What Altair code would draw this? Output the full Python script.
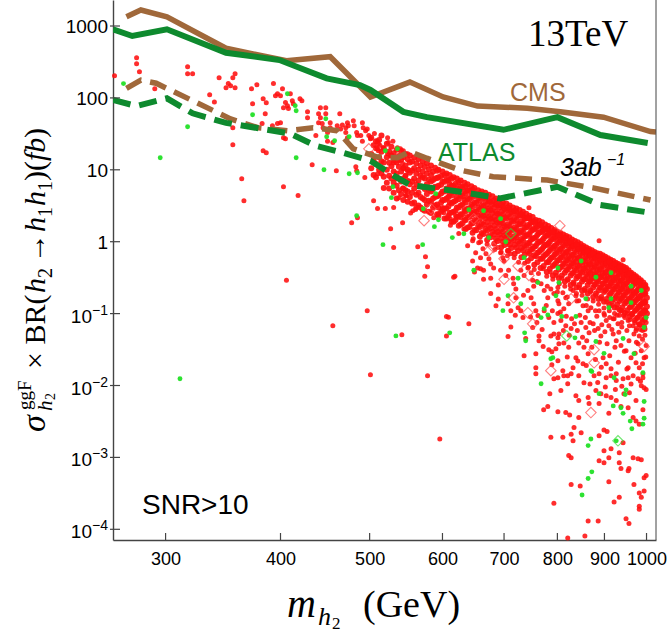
import altair as alt
import pandas as pd

# ---------------- exclusion limits (mass in GeV, cross section in fb) ----------------
cms_m = [272, 282, 301, 349, 406, 453, 501, 553, 601, 655, 742, 806, 898, 1010, 1024]
cms_s = [1346, 1669, 1346, 490, 329, 374, 103, 166, 103, 77, 72, 64, 54, 34, 33.6]

atlas_m = [263, 276, 301, 349, 399, 449, 488, 501, 544, 577, 699, 800, 891, 1003]
atlas_s = [900, 726, 900, 425, 336, 187, 151, 129, 64, 54, 36, 54, 30.5, 23.6]

cms3_m = [272, 282, 293, 353, 378, 407, 434, 461, 480, 509, 536, 553, 577, 627, 681, 780, 875, 1010]
cms3_s = [136, 177, 160, 51, 38.5, 35, 38.5, 35, 19.6, 15.2, 14.7, 17.9, 14.5, 9.9, 8.0, 7.2, 5.6, 3.8]

atlas3_m = [263, 279, 301, 321, 349, 410, 437, 467, 501, 531, 553, 627, 693, 800, 891, 995]
atlas3_s = [93.5, 77, 98.7, 61, 45, 31.8, 21.6, 17.3, 13.4, 8.3, 6.15, 4.96, 4.0, 5.8, 3.24, 2.6]

# ---------------- scan points ----------------
red_sparse = [
    (264, 204), (279, 362), (279, 299), (281, 231), (292, 134), (317, 272), (317, 217), (321, 217),
    (335, 111), (339, 88), (343, 191), (351, 158), (355, 191), (357, 217), (349, 139), (355, 38.5),
    (355, 22.3), (363, 7.5), (365, 3.7), (353, 148), (357, 139), (377, 153), (372, 134), (383, 97.5),
    (386, 85.7), (397, 114), (400, 107), (395, 107), (402, 134), (373, 83), (385, 60), (405, 86),
    (407, 78), (403, 73), (408, 71), (412, 91), (413, 83), (420, 97.5), (422, 91), (428, 53), (428, 64),
    (442, 73), (448, 73), (440, 60), (448, 60), (442, 53), (453, 45), (382, 44), (392, 41), (397, 44),
    (400, 45), (440, 45), (444, 44), (445, 38.5), (450, 33), (453, 38.5), (403, 28), (405, 27), (437, 30),
    (450, 25), (456, 24), (461, 41), (465, 37), (467, 42), (464, 60), (473, 45), (474, 41), (471, 38.5),
    (471, 33), (473, 28), (480, 48), (481, 41), (484, 33), (485, 30), (491, 45), (492, 38.5), (495, 35),
    (497, 37), (489, 30), (491, 25), (499, 30), (501, 27), (506, 32), (510, 25), (511, 23), (513, 22),
    (383, 18.4), (386, 17.3), (433, 11.8), (460, 9.7), (483, 11), (484, 9.7), (494, 7.8), (510, 19.6),
    (511, 18.4), (517, 20.3), (523, 28), (524, 24), (530, 25), (536, 20.3), (540, 19.6), (544, 18.4),
    (550, 16.7), (523, 16.7), (527, 15.7), (531, 13.4), (538, 13.4), (543, 12.2), (544, 10.7), (550, 9.7),
    (547, 8.3), (551, 7), (510, 8.8), (534, 7.5), (543, 5.6), (403, 5.8), (418, 4.4), (505, 3.7),
    (510, 2.9), (520, 2.9), (531, 3.0), (538, 4.1), (547, 4.4), (478, 1.84), (485, 2.16), (527, 1.52),
    (543, 1.84), (554, 2.5), (406, 0.29), (456, 0.068), (393, 158), (410, 114),
]

# dense band along the upper edge of the scan: mass -> cross sections
red_band = {
    502: [28, 16.6, 10.5], 508: [25, 20, 12, 7.9], 515: [30, 17.8, 13.2, 8.9], 522: [23, 15, 10, 6.6],
    528: [21, 15.8, 11.2, 7.6], 535: [19, 12.6, 8.9, 6.0, 4.0], 541: [18.2, 13.8, 9.5, 6.9, 4.6],
    547: [16.6, 11.5, 8.3, 5.2], 553: [15.8, 12.6, 9.1, 6.3, 4.2], 559: [14.8, 10.5, 7.6, 5.5, 3.5],
    565: [14.1, 10, 7.1, 4.8, 3.2], 571: [13.2, 9.5, 7.9, 5.8, 4.0, 2.8], 577: [12.3, 8.9, 6.3, 4.6, 3.3],
    583: [11.5, 8.5, 6.9, 5.0, 3.6, 2.5], 589: [10.7, 7.6, 5.8, 4.2, 3.2], 594: [10, 7.9, 6.0, 4.4, 3.0, 2.3],
    600: [9.5, 6.9, 5.0, 3.8, 2.75], 606: [8.9, 7.2, 5.5, 4.0, 2.9, 2.1], 611: [8.5, 6.3, 4.6, 3.5, 2.5],
    617: [7.9, 6.0, 5.0, 3.6, 2.6, 1.9], 622: [7.6, 5.5, 4.2, 3.0, 2.2], 628: [7.1, 5.8, 4.4, 3.2, 2.4, 1.74],
    634: [6.6, 5.0, 3.8, 2.75, 2.0], 639: [6.3, 5.2, 4.0, 2.9, 2.2, 1.58], 645: [5.9, 4.4, 3.3, 2.5, 1.8],
    650: [5.6, 4.6, 3.5, 2.6, 2.0, 1.45], 656: [5.2, 4.0, 3.0, 2.3, 1.66], 662: [5.0, 4.2, 3.2, 2.4, 1.8, 1.32],
    668: [4.8, 3.6, 2.75, 2.1, 1.5], 674: [4.5, 3.7, 2.9, 2.2, 1.66, 1.2], 680: [4.3, 3.3, 2.5, 1.9, 1.38],
    686: [4.0, 3.4, 2.6, 2.0, 1.5, 1.1], 692: [3.8, 3.0, 2.3, 1.74, 1.26], 698: [3.5, 3.1, 2.4, 1.8, 1.38, 1.0],
    704: [3.4, 2.75, 2.1, 1.58, 1.15], 710: [3.2, 2.8, 2.2, 1.66, 1.26, 0.91], 716: [3.0, 2.5, 1.9, 1.45, 1.05],
    722: [2.9, 2.6, 2.0, 1.5, 1.15, 0.83], 728: [2.75, 2.3, 1.74, 1.32, 0.95],
    734: [2.6, 2.3, 1.8, 1.38, 1.05, 0.76], 740: [2.45, 2.1, 1.58, 1.2, 0.87],
    746: [2.3, 2.1, 1.66, 1.26, 0.95, 0.69], 752: [2.2, 1.9, 1.45, 1.1, 0.79],
    758: [2.0, 1.74, 1.5, 1.15, 0.87, 0.63], 764: [1.95, 1.74, 1.32, 1.0, 0.72],
    770: [1.86, 1.58, 1.38, 1.05, 0.79, 0.58], 776: [1.74, 1.45, 1.2, 0.91, 0.66],
    782: [1.66, 1.48, 1.26, 0.95, 0.72, 0.52], 788: [1.55, 1.32, 1.1, 0.83, 0.6],
    794: [1.45, 1.35, 1.15, 0.87, 0.66, 0.48], 800: [1.38, 1.2, 1.0, 0.76, 0.55],
    806: [1.32, 1.23, 1.05, 0.79, 0.6, 0.44], 812: [1.26, 1.1, 0.91, 0.69, 0.5],
    818: [1.2, 1.12, 0.95, 0.72, 0.55, 0.4], 824: [1.15, 1.0, 0.83, 0.63, 0.46],
    830: [1.07, 0.93, 0.87, 0.66, 0.5, 0.36], 836: [1.02, 0.91, 0.76, 0.58, 0.42],
    842: [0.98, 0.89, 0.79, 0.6, 0.46, 0.33], 848: [0.93, 0.83, 0.69, 0.52, 0.38],
    854: [0.87, 0.81, 0.72, 0.55, 0.42, 0.3], 860: [0.83, 0.76, 0.63, 0.48, 0.35],
    866: [0.79, 0.74, 0.66, 0.5, 0.38, 0.28], 872: [0.76, 0.69, 0.58, 0.44, 0.32],
    878: [0.72, 0.68, 0.6, 0.46, 0.35, 0.25], 884: [0.69, 0.63, 0.52, 0.4, 0.29],
    890: [0.68, 0.62, 0.55, 0.42, 0.32, 0.23], 896: [0.65, 0.58, 0.48, 0.36, 0.26],
    902: [0.62, 0.56, 0.5, 0.38, 0.29, 0.21], 908: [0.59, 0.52, 0.44, 0.33, 0.24],
    914: [0.56, 0.51, 0.46, 0.35, 0.26, 0.19], 920: [0.54, 0.48, 0.4, 0.3, 0.22],
    926: [0.51, 0.47, 0.42, 0.32, 0.24, 0.17], 932: [0.49, 0.44, 0.36, 0.28, 0.2],
    938: [0.47, 0.43, 0.38, 0.29, 0.22, 0.16], 944: [0.45, 0.4, 0.33, 0.25, 0.18],
    950: [0.43, 0.39, 0.35, 0.26, 0.2, 0.145], 956: [0.4, 0.35, 0.3, 0.22, 0.16],
    962: [0.37, 0.34, 0.3, 0.23, 0.17, 0.126], 968: [0.35, 0.32, 0.26, 0.2, 0.145],
    974: [0.33, 0.3, 0.27, 0.2, 0.155, 0.112], 980: [0.31, 0.28, 0.23, 0.17, 0.126],
    986: [0.29, 0.26, 0.23, 0.178, 0.135, 0.1], 992: [0.27, 0.24, 0.2, 0.15, 0.112],
    997: [0.25, 0.23, 0.19, 0.145, 0.11, 0.089], 1001: [0.22, 0.166, 0.126, 0.1],
}

# second pass through the band, between the columns above
red_band_mid = {
    505: [22, 13.5, 8.5], 512: [26, 15, 10], 518: [20, 12.6, 8.0, 5.6], 525: [18, 12.5, 8.3, 5.5],
    531: [17, 12.6, 9.5, 6.6, 4.8], 538: [15.5, 11, 7.6, 5.2], 544: [15, 10.5, 7.6, 5.5, 3.8],
    550: [14, 10, 7, 5, 3.6], 556: [13, 9.8, 6.9, 4.8, 3.4], 562: [12.3, 8.9, 6.3, 4.5, 3.0],
    568: [11.5, 8.3, 5.9, 4.2, 3.0], 574: [11, 7.6, 5.4, 3.8, 2.7], 580: [10.2, 7.3, 5.3, 3.7, 2.6],
    586: [9.4, 7.2, 5.4, 4.0, 3.0], 592: [9.7, 7.7, 5.7, 4.3, 3.3, 2.4], 598: [8.2, 6.2, 4.7, 3.5, 2.6],
    603: [8.5, 6.8, 5.0, 3.8, 2.9, 2.1], 609: [7.2, 5.5, 4.2, 3.1, 2.3], 614: [7.5, 6.0, 4.4, 3.4, 2.55, 1.9],
    620: [6.4, 4.9, 3.7, 2.7, 2.0], 625: [6.7, 5.3, 3.9, 3.0, 2.26, 1.67], 631: [5.7, 4.3, 3.3, 2.4, 1.8],
    636: [5.9, 4.7, 3.5, 2.65, 2.0, 1.5], 642: [5.1, 3.9, 2.9, 2.2, 1.6], 647: [5.3, 4.2, 3.1, 2.4, 1.8, 1.33],
    653: [4.5, 3.45, 2.6, 1.94, 1.44], 659: [4.7, 3.7, 2.8, 2.1, 1.6, 1.18], 665: [4.1, 3.1, 2.3, 1.73, 1.28],
    671: [4.2, 3.3, 2.5, 1.88, 1.43, 1.06], 677: [3.6, 2.75, 2.1, 1.55, 1.15],
    683: [3.75, 3.0, 2.2, 1.67, 1.27, 0.94], 689: [3.2, 2.45, 1.85, 1.37, 1.02],
    695: [3.3, 2.6, 1.96, 1.49, 1.13, 0.84], 701: [2.86, 2.17, 1.64, 1.22, 0.9],
    707: [2.98, 2.37, 1.75, 1.33, 1.0, 0.75], 713: [2.58, 1.96, 1.49, 1.1, 0.82],
    719: [2.7, 2.14, 1.58, 1.2, 0.91, 0.68], 725: [2.33, 1.77, 1.34, 1.0, 0.74],
    731: [2.43, 1.93, 1.43, 1.09, 0.82, 0.61], 737: [2.1, 1.58, 1.2, 0.89, 0.66],
    743: [2.16, 1.71, 1.27, 0.96, 0.73, 0.54], 749: [1.85, 1.41, 1.07, 0.79, 0.59],
    755: [1.91, 1.52, 1.13, 0.86, 0.65, 0.48], 761: [1.64, 1.25, 0.95, 0.7, 0.52],
    767: [1.71, 1.36, 1.0, 0.76, 0.58, 0.43], 773: [1.47, 1.11, 0.85, 0.63, 0.46],
    779: [1.52, 1.21, 0.9, 0.68, 0.52, 0.38], 785: [1.32, 1.0, 0.76, 0.56, 0.42],
    791: [1.36, 1.08, 0.8, 0.61, 0.46, 0.34], 797: [1.17, 0.89, 0.68, 0.5, 0.37],
    803: [1.22, 0.97, 0.72, 0.55, 0.41, 0.31], 809: [1.06, 0.81, 0.61, 0.45, 0.34],
    815: [1.11, 0.88, 0.65, 0.49, 0.37, 0.28], 821: [0.96, 0.73, 0.55, 0.41, 0.3],
    827: [1.0, 0.8, 0.59, 0.45, 0.34, 0.25], 833: [0.87, 0.66, 0.5, 0.37, 0.27],
    839: [0.91, 0.72, 0.53, 0.4, 0.31, 0.23], 845: [0.79, 0.6, 0.45, 0.33, 0.25],
    851: [0.82, 0.65, 0.48, 0.37, 0.28, 0.21], 857: [0.71, 0.54, 0.41, 0.3, 0.22],
    863: [0.74, 0.59, 0.44, 0.33, 0.25, 0.19], 869: [0.65, 0.49, 0.37, 0.28, 0.21],
    875: [0.68, 0.54, 0.4, 0.31, 0.23, 0.17], 881: [0.6, 0.45, 0.34, 0.26, 0.19],
    887: [0.63, 0.5, 0.37, 0.28, 0.21, 0.16], 893: [0.55, 0.42, 0.32, 0.23, 0.17],
    899: [0.58, 0.46, 0.34, 0.26, 0.2, 0.146], 905: [0.51, 0.38, 0.29, 0.22, 0.16],
    911: [0.53, 0.42, 0.31, 0.24, 0.18, 0.133], 917: [0.46, 0.35, 0.27, 0.2, 0.147],
    923: [0.49, 0.39, 0.29, 0.22, 0.16, 0.122], 929: [0.42, 0.32, 0.24, 0.18, 0.134],
    935: [0.44, 0.35, 0.26, 0.2, 0.15, 0.112], 941: [0.39, 0.29, 0.22, 0.166, 0.123],
    947: [0.41, 0.32, 0.24, 0.18, 0.138, 0.102], 953: [0.35, 0.27, 0.2, 0.15, 0.111],
    959: [0.36, 0.29, 0.21, 0.16, 0.123, 0.091], 965: [0.31, 0.24, 0.18, 0.133, 0.099],
    971: [0.32, 0.26, 0.19, 0.144, 0.109, 0.081], 977: [0.28, 0.21, 0.16, 0.117, 0.087],
    983: [0.28, 0.22, 0.165, 0.125, 0.095, 0.07], 989: [0.24, 0.18, 0.137, 0.102, 0.075],
    995: [0.24, 0.19, 0.143, 0.109, 0.082, 0.061],
}

red_spread = [
    (557, 2.7), (561, 2.8), (564, 0.85), (575, 0.62), (578, 0.45), (574, 0.33), (548, 4.36),
    (587, 2.16), (594, 2.45), (600, 3.0), (602, 2.53), (608, 2.16), (612, 2.09), (620, 2.3), (628, 2.16),
    (617, 0.32), (606, 0.091), (609, 0.089), (641, 0.072), (606, 0.049),
    (639, 0.88), (647, 1.03), (652, 0.70), (657, 0.97), (660, 0.60), (664, 0.80), (647, 0.54), (655, 0.43),
    (660, 0.42), (665, 0.40), (669, 0.68), (674, 0.58), (677, 0.49), (682, 0.43), (677, 0.31), (686, 0.129),
    (677, 0.19), (689, 0.83), (694, 0.70), (698, 0.60), (700, 0.54), (707, 0.75), (712, 0.68), (694, 0.40),
    (703, 0.34), (708, 0.40), (716, 0.31), (717, 0.26), (721, 0.22), (707, 0.137), (712, 0.110), (721, 0.166),
    (725, 0.121), (730, 0.110), (734, 0.088), (707, 0.048), (739, 0.045), (730, 0.40), (736, 0.34), (743, 0.43),
    (749, 0.37), (752, 0.29), (754, 0.24), (743, 0.21), (749, 0.166), (754, 0.137), (758, 0.110), (762, 0.094),
    (768, 0.26), (774, 0.21), (781, 0.166), (787, 0.22), (793, 0.19), (801, 0.151), (774, 0.110), (783, 0.088),
    (793, 0.075), (801, 0.100), (764, 0.049), (793, 0.052), (752, 0.064), (578, 0.0137), (596, 0.0018),
    (764, 0.042), (787, 0.049), (801, 0.046), (803, 0.038), (783, 0.0315), (789, 0.0295), (797, 0.0325),
    (772, 0.035), (736, 0.026), (758, 0.0277), (758, 0.0177), (758, 0.0146), (789, 0.0195), (793, 0.0124),
    (785, 0.0077), (781, 0.0051), (773, 0.0046), (801, 0.0043), (787, 0.0019), (793, 0.00023),
    (801, 0.23), (811, 0.195), (817, 0.166), (803, 0.137), (813, 0.117), (823, 0.137), (832, 0.21), (838, 0.177),
    (844, 0.151), (853, 0.129), (864, 0.110), (870, 0.121), (807, 0.080), (817, 0.068), (828, 0.062), (803, 0.052),
    (813, 0.039), (823, 0.034), (849, 0.075), (859, 0.064), (866, 0.054), (875, 0.072), (886, 0.062), (892, 0.049),
    (844, 0.039), (855, 0.034), (864, 0.0277), (838, 0.0244), (853, 0.0201), (832, 0.0177), (888, 0.110),
    (899, 0.100), (904, 0.080), (910, 0.068), (922, 0.085), (931, 0.072), (938, 0.110), (945, 0.094), (955, 0.080),
    (967, 0.068), (974, 0.058), (982, 0.049), (920, 0.052), (927, 0.042), (938, 0.036), (950, 0.0305),
    (962, 0.0244), (974, 0.0207), (897, 0.0244), (904, 0.0201), (915, 0.0171), (927, 0.0146), (943, 0.0124),
    (955, 0.0177), (979, 0.038), (987, 0.0305), (994, 0.0244), (982, 0.0177), (991, 0.0128), (801, 0.0221),
    (811, 0.0161), (821, 0.0137), (801, 0.0128), (888, 1.03), (943, 0.56), (745, 2.97),
    (813, 0.0137), (828, 0.0146), (844, 0.0137), (855, 0.0109), (821, 0.0106), (807, 0.0085), (838, 0.0072),
    (844, 0.0062), (864, 0.0068), (866, 0.0056), (877, 0.0137), (888, 0.0146), (904, 0.0128), (915, 0.0137),
    (927, 0.0117), (955, 0.0128), (967, 0.0137), (979, 0.0124), (991, 0.0146), (881, 0.0085), (892, 0.0077),
    (904, 0.0072), (915, 0.0068), (927, 0.0062), (945, 0.0077), (958, 0.0079), (974, 0.0062), (987, 0.0099),
    (994, 0.0093), (888, 0.0056), (910, 0.0041), (938, 0.0051), (955, 0.0049), (967, 0.0036), (974, 0.0032),
    (982, 0.0029), (991, 0.0046), (817, 0.0042), (825, 0.0039), (844, 0.0036), (834, 0.0026), (849, 0.0022),
    (828, 0.0021), (832, 0.0017), (811, 0.0019), (888, 0.0020), (899, 0.0024), (906, 0.0023), (915, 0.00132),
    (899, 0.00124), (934, 0.00116), (943, 0.0016), (823, 0.00106), (828, 0.00099), (888, 0.00090), (899, 0.00084),
    (910, 0.00099), (934, 0.00084), (938, 0.00070), (955, 0.00065), (957, 0.00070), (967, 0.00099), (979, 0.00096),
    (987, 0.00093), (994, 0.00052), (999, 0.00056), (910, 0.00046), (828, 0.00042), (847, 0.00040), (969, 0.00042),
    (994, 0.00034), (982, 0.00032), (987, 0.00028), (982, 0.00021), (982, 0.00019), (934, 0.00028), (922, 0.00024),
    (864, 0.00013), (886, 0.00013), (950, 0.00014), (957, 0.00012), (857, 0.000081), (821, 0.000076),
    (619, 0.33), (531, 0.83), (497, 0.110), (542, 0.051), (501, 0.0141),
    (612, 1.7), (625, 1.3), (633, 1.5), (648, 1.1), (660, 1.0), (671, 0.92), (684, 0.78), (695, 0.72), (706, 0.64),
    (718, 0.6), (726, 0.52), (737, 0.5), (744, 0.44), (755, 0.41), (763, 0.36), (772, 0.42), (779, 0.33),
    (786, 0.38), (791, 0.3), (798, 0.34), (804, 0.26), (809, 0.31), (815, 0.24), (821, 0.29), (827, 0.22),
    (833, 0.26), (839, 0.19), (845, 0.23), (851, 0.18), (857, 0.21), (863, 0.16), (869, 0.2), (875, 0.15),
    (881, 0.18), (887, 0.135), (893, 0.16), (899, 0.12), (905, 0.145), (911, 0.11), (917, 0.13), (923, 0.1),
    (929, 0.12), (935, 0.095), (941, 0.11), (947, 0.088), (953, 0.1), (959, 0.082), (965, 0.095), (971, 0.075),
    (977, 0.088), (983, 0.07), (989, 0.082), (995, 0.066), (999, 0.075), (990, 0.058), (975, 0.062), (958, 0.068),
    (940, 0.075), (920, 0.085), (900, 0.095), (880, 0.11), (860, 0.13), (840, 0.15), (820, 0.17), (800, 0.2),
    (780, 0.24), (760, 0.28),
    (806, 0.105), (812, 0.058), (818, 0.092), (824, 0.05), (829, 0.085), (835, 0.072), (841, 0.058), (846, 0.095),
    (852, 0.047), (858, 0.088), (861, 0.042), (868, 0.075), (872, 0.034), (878, 0.058), (883, 0.092), (889, 0.04),
    (894, 0.07), (901, 0.056), (906, 0.038), (912, 0.088), (917, 0.06), (924, 0.034), (929, 0.095), (933, 0.055),
    (940, 0.065), (946, 0.03), (952, 0.058), (957, 0.042), (963, 0.1), (969, 0.052), (975, 0.04), (980, 0.072),
    (985, 0.06), (990, 0.044), (996, 0.05), (999, 0.036), (820, 0.025), (842, 0.022), (860, 0.019), (880, 0.023),
    (893, 0.018), (912, 0.026), (932, 0.021), (952, 0.017), (972, 0.028), (990, 0.02), (998, 0.025), (868, 0.0105),
    (885, 0.011), (902, 0.0095), (925, 0.0088), (940, 0.0098), (962, 0.0105), (985, 0.0115), (999, 0.0088),
    (760, 0.075), (770, 0.06), (778, 0.13), (790, 0.11), (748, 0.09), (735, 0.18), (720, 0.095), (690, 0.25),
    (665, 0.3), (650, 0.38), (690, 0.16), (712, 0.065),
]

green_pts = [
    (270, 158), (296, 14.7), (317, 39.7), (373, 58.4), (407, 114), (415, 78), (416, 66.4), (448, 51.4),
    (449, 28.8), (458, 25.4), (475, 28.8), (416, 14.7), (446, 10), (475, 8.8), (485, 9.1), (520, 18.4),
    (536, 19.6), (530, 5.8), (528, 4.1), (484, 2.3), (311, 0.0124),
    (572, 2.88), (590, 4.65), (588, 1.62), (594, 2.02), (615, 1.14), (633, 1.29), (571, 0.91), (649, 0.40),
    (641, 2.79), (665, 2.7), (694, 2.09), (674, 1.14), (703, 1.0), (736, 0.60), (725, 0.31), (707, 0.177),
    (698, 0.110), (730, 0.137), (762, 0.27), (768, 0.088), (774, 0.117), (781, 0.096), (737, 0.054),
    (611, 0.054), (797, 0.177), (801, 0.43), (803, 0.27), (809, 0.091), (838, 0.091), (859, 0.161),
    (915, 0.161), (910, 0.121), (962, 0.142), (999, 0.088), (994, 0.064), (836, 0.046), (881, 0.041),
    (943, 0.045), (969, 0.0277), (899, 0.028), (870, 0.0161), (922, 0.0128), (991, 0.0151), (739, 0.042),
    (787, 0.0236), (791, 0.0244), (768, 0.0106), (872, 0.0156), (888, 0.0077), (950, 0.0087), (948, 0.0075),
    (920, 0.0052), (938, 0.0049), (994, 0.0060), (943, 0.0041), (960, 0.0032), (964, 0.0025), (994, 0.0035),
    (991, 0.0029), (870, 0.0018), (864, 0.00146), (872, 0.00063), (864, 0.00051), (851, 0.00030), (927, 0.0017),
    (849, 0.54), (915, 0.37), (881, 0.32), (962, 0.24), (987, 0.21), (517, 0.91), (534, 0.049),
]

red_diamonds = [
    (499, 19.6), (583, 2.88), (573, 1.96), (649, 2.09), (674, 0.75), (682, 0.83), (700, 0.58), (725, 0.46),
    (700, 0.30), (745, 0.34), (717, 0.166), (743, 0.103), (752, 0.072), (805, 1.67), (828, 0.161),
    (877, 0.0315), (877, 0.0207), (787, 0.0161), (994, 0.035), (870, 0.0042),
]
green_diamonds = [(712, 1.29), (819, 0.049), (931, 0.0017)]

x_ticks = [300, 400, 500, 600, 700, 800, 900, 1000]
y_plain = [1000, 100, 10, 1]
y_plain_txt = ["1000", "100", "10", "1"]
y_pow = [0.1, 0.01, 0.001, 0.0001]
y_pow_exp = ["\u22121", "\u22122", "\u22123", "\u22124"]

# ---------------- styling ----------------
BROWN = "#a0683a"
GREEN = "#0e8a2e"
RED_PT = "#ff1010"
GREEN_PT = "#22e026"
SERIF = "Liberation Serif"
SANS = "Liberation Sans"
AXIS_COL = "#444444"

W, H = 543, 540
xs = alt.Scale(type="log", domain=[263, 1024], nice=False)
ys = alt.Scale(type="log", domain=[7.1e-5, 2300], nice=False)
x_axis = alt.Axis(values=x_ticks, format="d", title=None, grid=False, ticks=False, tickSize=0,
                  labelFont=SANS, labelFontSize=18, labelColor="black", labelPadding=10,
                  labelOverlap=False, labelFlush=False, domainColor=AXIS_COL, domainWidth=1.4)
y_axis = alt.Axis(labels=False, title=None, grid=False, ticks=False, tickSize=0,
                  domainColor=AXIS_COL, domainWidth=1.4)
X = alt.X("m:Q", scale=xs, axis=x_axis)
Y = alt.Y("s:Q", scale=ys, axis=y_axis)


def pts(rows):
    return pd.DataFrame(rows, columns=["m", "s"])


def curve(ms, ss, color, width, dash=None):
    kw = dict(color=color, strokeWidth=width, clip=True)
    if dash:
        kw["strokeDash"] = dash
    return alt.Chart(pd.DataFrame({"m": ms, "s": ss})).mark_line(**kw).encode(x=X, y=Y)


def text(txt, x, y, size, color="black", font=SANS, style="normal", align="left", angle=0):
    kw = dict(align=align, baseline="alphabetic", font=font, fontSize=size, fontStyle=style, color=color)
    if angle:
        kw["angle"] = angle
    return alt.Chart(pd.DataFrame({"t": [txt]})).mark_text(**kw).encode(
        x=alt.value(x), y=alt.value(y), text="t:N")


band_rows = [(m, s) for band in (red_band, red_band_mid) for m, ss in band.items() for s in ss]

# the packed band is drawn with slightly larger dots so it reads as one red mass
band_layer = alt.Chart(pts(band_rows)).mark_circle(
    color=RED_PT, size=36, opacity=0.92).encode(x=X, y=Y)
red_layer = alt.Chart(pts(red_sparse + red_spread)).mark_circle(
    color=RED_PT, size=25, opacity=0.88).encode(x=X, y=Y)
green_layer = alt.Chart(pts(green_pts)).mark_circle(
    color=GREEN_PT, size=24, opacity=0.95).encode(x=X, y=Y)
red_dia = alt.Chart(pts(red_diamonds)).mark_point(
    shape="diamond", filled=False, color="#ff4a4a", size=110, strokeWidth=1.1).encode(x=X, y=Y)
green_dia = alt.Chart(pts(green_diamonds)).mark_point(
    shape="diamond", filled=False, color="#33dd33", size=110, strokeWidth=1.1).encode(x=X, y=Y)

lines = [
    curve(cms_m, cms_s, BROWN, 5.5),
    curve(atlas_m, atlas_s, GREEN, 6),
    curve(cms3_m, cms3_s, BROWN, 5.5, [17, 9]),
    curve(atlas3_m, atlas3_s, GREEN, 6, [18, 9]),
]

x_tick_marks = alt.Chart(pd.DataFrame({"m": x_ticks})).mark_rule(color=AXIS_COL, strokeWidth=1.2).encode(
    x=X, y=alt.value(H - 7), y2=alt.value(H))
y_tick_marks = alt.Chart(pd.DataFrame({"s": y_plain + y_pow})).mark_rule(color=AXIS_COL, strokeWidth=1.2).encode(
    y=Y, x=alt.value(-3), x2=alt.value(7))
right_border = alt.Chart(pd.DataFrame({"t": [0]})).mark_rule(color=AXIS_COL, strokeWidth=1).encode(
    x=alt.value(W), y=alt.value(0), y2=alt.value(H))

y_lab_plain = alt.Chart(pd.DataFrame({"s": y_plain, "t": y_plain_txt})).mark_text(
    align="right", baseline="middle", font=SANS, fontSize=19, dy=1).encode(
    x=alt.value(-5), y=Y, text="t:N")
y_lab_base = alt.Chart(pd.DataFrame({"s": y_pow, "t": ["10"] * 4})).mark_text(
    align="right", baseline="middle", font=SANS, fontSize=19, dy=3).encode(
    x=alt.value(-21), y=Y, text="t:N")
y_lab_exp = alt.Chart(pd.DataFrame({"s": y_pow, "t": y_pow_exp})).mark_text(
    align="left", baseline="middle", font=SANS, fontSize=14, dy=-3).encode(
    x=alt.value(-21), y=Y, text="t:N")

labels = [
    text("13TeV", 415, 46, 37, font=SERIF),
    text("CMS", 397, 101, 25, color=BROWN),
    text("ATLAS", 325, 161, 25, color=GREEN),
    text("3ab", 447, 176, 25, style="italic"),
    text("\u22121", 494, 165, 16, style="italic"),
    text("SNR>10", 29, 514, 28),
    # x title: m_{h2}(GeV)
    text("m", 174, 617, 40, font=SERIF, style="italic"),
    text("h", 205, 625, 26, font=SERIF, style="italic"),
    text("2", 219, 629, 17, font=SERIF),
    text("(GeV)", 250, 617, 38, font=SERIF),
    # y title: sigma_{h2}^{ggF} x BR(h2 -> h1 h1)(fb)
    text("\u03c3", -68, 432, 34, font=SERIF, style="italic", angle=270),
    text("ggF", -82, 410, 19, font=SERIF, angle=270),
    text("h", -61, 411, 21, font=SERIF, style="italic", angle=270),
    text("2", -58, 400, 14, font=SERIF, angle=270),
    text("\u00d7 BR(", -68, 369, 30, font=SERIF, angle=270),
    text("h", -68, 293, 30, font=SERIF, style="italic", angle=270),
    text("2", -61, 278, 20, font=SERIF, angle=270),
    text("\u2192", -68, 263, 30, font=SERIF, angle=270),
    text("h", -68, 232, 30, font=SERIF, style="italic", angle=270),
    text("1", -61, 217, 20, font=SERIF, angle=270),
    text("h", -68, 206, 30, font=SERIF, style="italic", angle=270),
    text("1", -61, 191, 20, font=SERIF, angle=270),
    text(")(", -68, 181, 30, font=SERIF, angle=270),
    text("fb", -68, 161, 30, font=SERIF, style="italic", angle=270),
    text(")", -68, 138, 30, font=SERIF, angle=270),
]

chart = alt.layer(
    band_layer, red_layer, green_layer, red_dia, green_dia, *lines,
    x_tick_marks, y_tick_marks, right_border, y_lab_plain, y_lab_base, y_lab_exp, *labels,
).properties(
    width=W, height=H,
    autosize=alt.AutoSizeParams(type="none"),
    padding={"left": 113, "top": 0, "right": 11, "bottom": 96},
).configure_view(stroke=None)

chart.save("out.html", embed_options={"renderer": "svg", "actions": False})
